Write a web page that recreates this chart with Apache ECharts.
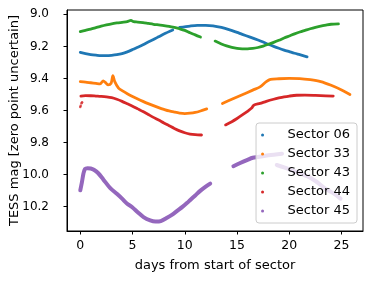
<!DOCTYPE html>
<html>
<head>
<meta charset="utf-8">
<script src="https://cdn.jsdelivr.net/npm/echarts@6/dist/echarts.min.js"></script>
<style>
html,body{margin:0;padding:0;background:#fff;}
#c{width:373px;height:282px;}
</style>
</head>
<body>
<div id="c"></div>
<script>
// ---- data (days from start of sector, TESS mag) ----
var seriesNames = ['Sector 06', 'Sector 33', 'Sector 43', 'Sector 44', 'Sector 45'];
var seriesColors = ['#1f77b4', '#ff7f0e', '#2ca02c', '#d62728', '#9467bd'];

var sector06 = [[0,9.237],[0.5,9.245],[1,9.251],[1.5,9.255],[2,9.258],[2.5,9.258],[3,9.256],[3.5,9.252],[4,9.245],[4.5,9.234],[5,9.22],[5.5,9.205],[6,9.19],[6.5,9.173],[7,9.157],[7.5,9.14],[8,9.123],[8.85,9.098],null,[9.5,9.082],[10.5,9.073],[11.2,9.069],[12,9.069],[12.7,9.072],[13.5,9.082],[14.3,9.097],[15,9.113],[15.5,9.125],[16.25,9.142],[17,9.16],[17.5,9.173],[18,9.187],[18.5,9.2],[19,9.212],[19.5,9.223],[20,9.233],[20.5,9.243],[21,9.252],[21.7,9.265]];

var sector33 = [[0,9.42],[0.5,9.423],[1,9.427],[1.5,9.431],[1.9,9.434],[2.2,9.415],[2.4,9.425],[2.65,9.44],[2.95,9.43],[3.12,9.382],[3.3,9.42],[3.66,9.46],[4,9.476],[4.5,9.495],[5,9.512],[5.5,9.528],[6,9.543],[6.5,9.557],[7,9.57],[7.5,9.582],[8,9.593],[8.5,9.603],[9,9.61],[9.5,9.616],[10,9.619],[10.5,9.617],[11,9.612],[11.5,9.603],[12.1,9.59],null,[13.6,9.556],[14.5,9.53],[15.5,9.502],[16.5,9.473],[17.2,9.453],[17.8,9.42],[18.2,9.406],[19,9.402],[20,9.4],[21,9.401],[22,9.408],[23,9.42],[24,9.443],[25,9.472],[25.8,9.5]];

var sector43 = [[0,9.108],[0.5,9.1],[1,9.092],[1.5,9.083],[2,9.074],[2.5,9.066],[3,9.059],[3.5,9.054],[4,9.05],[4.5,9.046],[4.85,9.038],[5.1,9.046],[5.5,9.048],[6,9.052],[6.5,9.057],[7,9.062],[7.5,9.066],[8,9.07],[8.5,9.075],[9,9.082],[9.5,9.09],[10,9.1],[10.5,9.115],[11,9.128],[11.5,9.142],null,[12.9,9.167],[13.5,9.185],[14,9.197],[14.5,9.206],[15,9.212],[15.5,9.215],[16,9.216],[16.5,9.213],[17,9.207],[17.5,9.198],[18,9.187],[18.5,9.175],[19,9.162],[19.5,9.148],[20,9.135],[20.5,9.122],[21,9.11],[21.5,9.1],[22,9.09],[22.5,9.081],[23,9.073],[23.5,9.067],[24,9.062],[24.7,9.06]];

var sector44 = [[0.06,9.51],[0.5,9.507],[1,9.508],[1.5,9.51],[2,9.512],[2.5,9.515],[3,9.52],[3.5,9.53],[4,9.543],[4.5,9.558],[5,9.573],[5.5,9.59],[6,9.607],[6.5,9.625],[7,9.643],[7.5,9.66],[8,9.678],[8.5,9.695],[9,9.712],[9.5,9.727],[10,9.739],[10.5,9.747],[11,9.751],[11.6,9.753],null,[13.9,9.69],[14.5,9.67],[15,9.65],[15.5,9.628],[16,9.605],[16.4,9.585],[16.6,9.567],[17.2,9.556],[17.8,9.543],[18.5,9.53],[19,9.522],[19.5,9.515],[20,9.51],[20.7,9.505],[21.5,9.504],[22.5,9.506],[23.5,9.509],[24.2,9.51]];
var sector44Stray = [[0,9.578],[0.04,9.57],[0.12,9.555],[0.17,9.548]];

var sector45 = [[0,10.098],[0.15,10.05],[0.3,9.995],[0.45,9.965],[0.7,9.96],[1,9.962],[1.3,9.97],[1.7,9.99],[2.2,10.03],[2.87,10.085],[3.5,10.12],[4,10.15],[4.46,10.18],[5,10.205],[5.5,10.235],[6.05,10.265],[6.69,10.286],[7.2,10.293],[7.7,10.29],[8.3,10.27],[8.8,10.25],[9.3,10.225],[9.8,10.2],[10.2,10.178],[10.5,10.16],[11,10.13],[11.5,10.1],[12,10.075],[12.43,10.056],null,[14.65,9.948],[15.3,9.928],[16,9.908],[16.5,9.895],[17,9.89],[18,9.88],[19.3,9.87],null,[18.8,9.94],[19.5,9.955],[20.5,9.98],[21.7,10.01],[22.5,10.04],[23.5,10.09],[24.3,10.12],[24.9,10.15]];

var xTicks = [0, 5, 10, 15, 20, 25];
var yTicks = [9.0, 9.2, 9.4, 9.6, 9.8, 10.0, 10.2];

var xLabel = 'days from start of sector';
var yLabel = 'TESS mag [zero point uncertain]';

// ---- chart ----
var FONT = 'DejaVu Sans';
var chart = echarts.init(document.getElementById('c'), null, {renderer: 'canvas'});

function lineSeries(name, data, color, width) {
  return {
    name: name, type: 'line', data: data, showSymbol: false, symbol: 'none',
    connectNulls: false, smooth: 0.3, animation: false,
    itemStyle: {color: color},
    lineStyle: {color: color, width: width, cap: 'round', join: 'round'}
  };
}

var allData = [sector06, sector33, sector43, sector44, sector45];
var widths = [2.8, 2.8, 2.8, 2.8, 4];
var series = [];
for (var i = 0; i < allData.length; i++) {
  series.push(lineSeries(seriesNames[i], allData[i], seriesColors[i], widths[i]));
}
series.splice(4, 0, {
  name: seriesNames[3], type: 'scatter', data: sector44Stray, symbolSize: 2.5,
  itemStyle: {color: seriesColors[3]}, animation: false
});

chart.setOption({
  animation: false,
  backgroundColor: '#ffffff',
  textStyle: {fontFamily: FONT},
  grid: {left: 67, right: 10, top: 10, bottom: 51, containLabel: false, outerBoundsMode: 'none',
    show: true, borderColor: '#000', borderWidth: 1, backgroundColor: 'transparent'},
  xAxis: {
    type: 'value', min: -1.27, max: 27.05,
    name: xLabel, nameLocation: 'middle', nameGap: 28, nameMoveOverlap: false,
    nameTextStyle: {color: '#000', fontSize: 13, fontFamily: FONT},
    axisLine: {show: true, onZero: false, lineStyle: {color: '#000', width: 1}},
    axisTick: {show: true, length: 3.5, lineStyle: {color: '#000'}, customValues: xTicks},
    axisLabel: {color: '#000', fontSize: 12.5, fontFamily: FONT, margin: 8, customValues: xTicks,
      formatter: function (v) { return String(Math.round(v)); }},
    splitLine: {show: false}
  },
  yAxis: {
    type: 'value', inverse: true, min: 8.973, max: 10.352,
    name: yLabel, nameLocation: 'middle', nameGap: 46, nameRotate: 90, nameMoveOverlap: false,
    nameTextStyle: {color: '#000', fontSize: 13, fontFamily: FONT},
    axisLine: {show: true, onZero: false, lineStyle: {color: '#000', width: 1}},
    axisTick: {show: true, length: 3.5, lineStyle: {color: '#000'}, customValues: yTicks},
    axisLabel: {color: '#000', fontSize: 12, fontFamily: FONT, margin: 18, customValues: yTicks,
      formatter: function (v) { return v.toFixed(1); }},
    splitLine: {show: false}
  },
  legend: {
    orient: 'vertical', right: 16, top: 123,
    data: seriesNames.map(function (n) { return {name: n, icon: 'circle'}; }),
    itemWidth: 26, itemHeight: 3, itemGap: 5,
    padding: [5, 7, 5, 5],
    backgroundColor: 'rgba(255,255,255,0.8)',
    borderColor: '#cccccc', borderWidth: 1, borderRadius: 3,
    textStyle: {color: '#000', fontSize: 13, fontFamily: FONT, lineHeight: 14, padding: [0, 0, 0, 7]},
    selectedMode: false
  },
  series: series
});
</script>
</body>
</html>
